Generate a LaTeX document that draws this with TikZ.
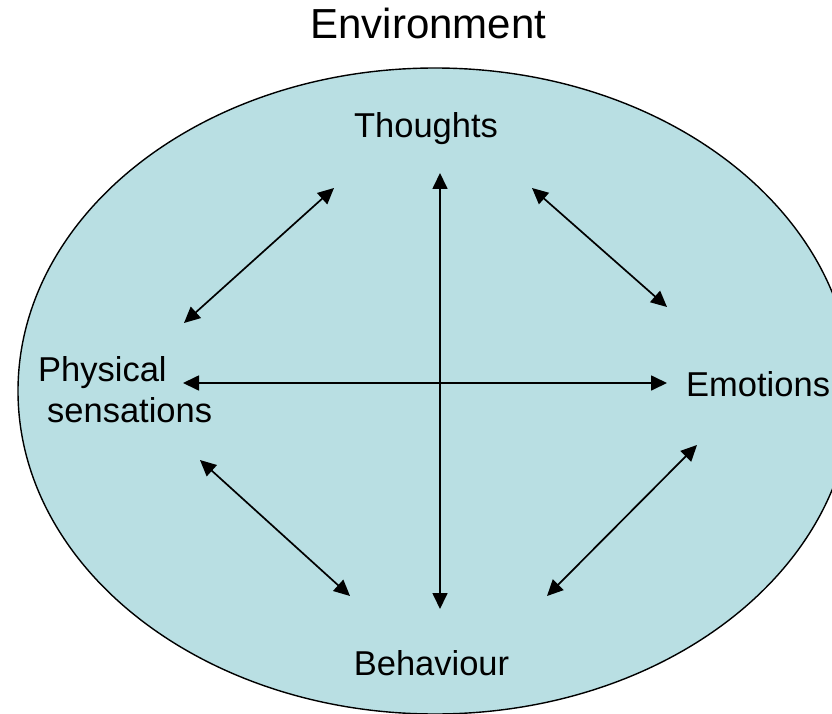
\documentclass[tikz,border=0pt]{standalone}
\usepackage{fontspec}
\setmainfont{Liberation Sans}
\usetikzlibrary{arrows.meta}
\definecolor{envfill}{RGB}{185,223,227}
\tikzset{
  lbl/.style={inner sep=0pt, font=\fontsize{34.5}{41}\selectfont},
  dbl/.style={line width=1.7pt, {Triangle[length=16pt,width=15pt]}-{Triangle[length=16pt,width=15pt]}},
}
\begin{document}
\begin{tikzpicture}[x=1pt,y=-1pt]
\useasboundingbox (0,0) rectangle (832,714);
\begin{scope}
\clip (0,0) rectangle (832,714);
\draw[fill=envfill, line width=1.4pt] (435,391) ellipse [x radius=417, y radius=323];
\end{scope}
\node[lbl, anchor=base, font=\fontsize{42}{50}\selectfont] (env) at (428.5,39) {Environment};
\node[lbl, anchor=base] (th) at (426,138) {Thoughts};
\node[lbl, anchor=base west] (em) at (686,396) {Emotions};
\node[lbl, anchor=base] (be) at (431.5,675) {Behaviour};
\node[lbl, anchor=base west] (ph1) at (38,381) {Physical};
\node[lbl, anchor=base west] (ph2) at (47,422) {sensations};
% arrow ends
\coordinate (vT) at (440,173);
\coordinate (vB) at (440,609);
\coordinate (hL) at (183,383);
\coordinate (hR) at (667,383);
\coordinate (ulA) at (184,323);
\coordinate (ulB) at (334,188);
\coordinate (urA) at (532,188);
\coordinate (urB) at (667,307);
\coordinate (llA) at (200,460);
\coordinate (llB) at (350,596);
\coordinate (lrA) at (697,445);
\coordinate (lrB) at (547,596);
\draw[dbl] (vT) -- (vB);
\draw[dbl] (hL) -- (hR);
\draw[dbl] (ulA) -- (ulB);
\draw[dbl] (urA) -- (urB);
\draw[dbl] (llA) -- (llB);
\draw[dbl] (lrA) -- (lrB);
\end{tikzpicture}
\end{document}
